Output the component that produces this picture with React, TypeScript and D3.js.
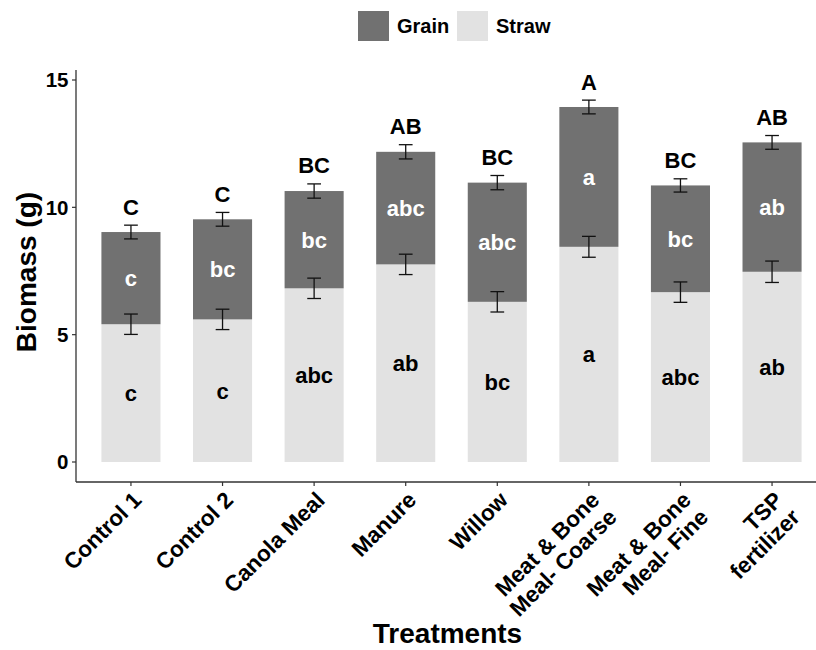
import React from "react";
import * as d3 from "d3";

const categories = [
  "Control 1",
  "Control 2",
  "Canola Meal",
  "Manure",
  "Willow",
  "Meat & Bone\nMeal- Coarse",
  "Meat & Bone\nMeal- Fine",
  "TSP\nfertilizer",
];
const strawValues = [5.41, 5.6, 6.82, 7.76, 6.29, 8.45, 6.67, 7.47];
const grainValues = [3.62, 3.93, 3.82, 4.42, 4.68, 5.49, 4.19, 5.08];
const strawSE = [0.4, 0.4, 0.4, 0.4, 0.4, 0.41, 0.4, 0.42];
const totalSE = [0.27, 0.27, 0.28, 0.28, 0.28, 0.27, 0.26, 0.27];
const totalLetters = ["C", "C", "BC", "AB", "BC", "A", "BC", "AB"];
const grainLetters = ["c", "bc", "bc", "abc", "abc", "a", "bc", "ab"];
const strawLetters = ["c", "c", "abc", "ab", "bc", "a", "abc", "ab"];
const yTicks = [0, 5, 10, 15];
const seriesNames = ["Grain", "Straw"];

const W = 816;
const H = 650;
const FONT = "'Liberation Sans', Arial, Helvetica, sans-serif";
const GRAIN = "#717171";
const STRAW = "#e2e2e2";

export default function App() {
  const x = d3.scalePoint<string>().domain(categories).range([76, 827]).padding(0.6);
  const step = x.step();
  const barW = step * 0.645;
  const capW = step * 0.15;
  const y = d3.scaleLinear().domain([0, 15]).range([462, 80]);
  const panelTop = 70;
  const panelBottom = 482;

  const rows = categories.map((c, i) => ({ cat: c, Straw: strawValues[i], Grain: grainValues[i] }));
  const stack = d3.stack<any>().keys(["Straw", "Grain"]);
  const layers = stack(rows);
  const strawLayer = layers[0];
  const grainLayer = layers[1];

  return (
    <svg
      width={W}
      height={H}
      style={{ position: "absolute", left: 0, top: 0, background: "#fff" }}
      fontFamily={FONT}
      fontWeight="bold"
    >
      <rect x={0} y={0} width={W} height={H} fill="#fff" />
      {/* bars */}
      {categories.map((c, i) => {
        const cx = x(c)!;
        const s = strawLayer[i];
        const g = grainLayer[i];
        return (
          <g key={c}>
            <rect x={cx - barW / 2} y={y(s[1])} width={barW} height={y(s[0]) - y(s[1])} fill={STRAW} />
            <rect x={cx - barW / 2} y={y(g[1])} width={barW} height={y(g[0]) - y(g[1])} fill={GRAIN} />
          </g>
        );
      })}
      {/* error bars */}
      {categories.map((c, i) => {
        const cx = x(c)!;
        const sTop = strawLayer[i][1];
        const gTop = grainLayer[i][1];
        const bars = [
          [sTop - strawSE[i], sTop + strawSE[i]],
          [gTop - totalSE[i], gTop + totalSE[i]],
        ];
        return (
          <g key={"e" + c} stroke="#111" strokeWidth={1.3} fill="none">
            {bars.map(([lo, hi], j) => (
              <g key={j}>
                <line x1={cx} x2={cx} y1={y(lo)} y2={y(hi)} />
                <line x1={cx - capW / 2} x2={cx + capW / 2} y1={y(lo)} y2={y(lo)} />
                <line x1={cx - capW / 2} x2={cx + capW / 2} y1={y(hi)} y2={y(hi)} />
              </g>
            ))}
          </g>
        );
      })}
      {/* letters */}
      {categories.map((c, i) => {
        const cx = x(c)!;
        const s = strawLayer[i];
        const g = grainLayer[i];
        return (
          <g key={"l" + c} textAnchor="middle" fontSize={22}>
            <text x={cx} y={y((s[0] + s[1]) / 2)} dy="0.36em" fill="#000">
              {strawLetters[i]}
            </text>
            <text x={cx} y={y((g[0] + g[1]) / 2)} dy="0.36em" fill="#fff">
              {grainLetters[i]}
            </text>
            <text x={cx} y={y(g[1] + totalSE[i]) - 10.5} fill="#000">
              {totalLetters[i]}
            </text>
          </g>
        );
      })}
      {/* axes */}
      <line x1={76} x2={76} y1={panelTop} y2={panelBottom} stroke="#333" strokeWidth={1.3} />
      <line x1={76} x2={W} y1={panelBottom} y2={panelBottom} stroke="#333" strokeWidth={1.3} />
      {yTicks.map((t) => (
        <g key={"yt" + t}>
          <line x1={72} x2={76} y1={y(t)} y2={y(t)} stroke="#333" strokeWidth={1.2} />
          <text x={68.5} y={y(t)} dy="0.36em" textAnchor="end" fontSize={20.5} fill="#000">
            {t}
          </text>
        </g>
      ))}
      {categories.map((c) => {
        const cx = x(c)!;
        const lines = c.split("\n");
        return (
          <g key={"xt" + c}>
            <line x1={cx} x2={cx} y1={panelBottom} y2={panelBottom + 4} stroke="#333" strokeWidth={1.2} />
            <text
              transform={`translate(${cx + 0.5},${490}) rotate(-45)`}
              textAnchor="end"
              fontSize={22.5}
              fill="#000"
            >
              {lines.map((ln, j) => (
                <tspan key={j} x={0} dy={j === 0 ? "0.72em" : "1.08em"}>
                  {ln}
                </tspan>
              ))}
            </text>
          </g>
        );
      })}
      {/* axis titles */}
      <text transform={`translate(36,272) rotate(-90)`} textAnchor="middle" fontSize={28} fill="#000">
        Biomass (g)
      </text>
      <text x={447.5} y={643} textAnchor="middle" fontSize={28} fill="#000">
        Treatments
      </text>
      {/* legend */}
      {seriesNames.map((nm, i) => {
        const kx = i === 0 ? 358 : 457;
        return (
          <g key={"lg" + nm}>
            <rect x={kx} y={11} width={31} height={30} fill={nm === "Grain" ? GRAIN : STRAW} />
            <text x={kx + 39} y={33} fontSize={20} fill="#000">
              {nm}
            </text>
          </g>
        );
      })}
    </svg>
  );
}
